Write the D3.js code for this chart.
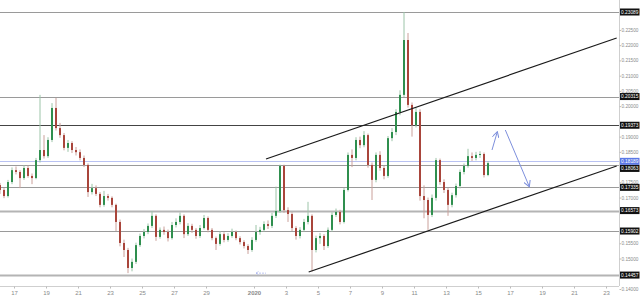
<!DOCTYPE html>
<html>
<head>
<meta charset="utf-8">
<script src="https://cdn.jsdelivr.net/npm/d3@7"></script>
<style>
  body { margin: 0; background: #fff; }
  svg { display: block; font-family: "Liberation Sans", Arial, sans-serif; }
</style>
</head>
<body>
<svg id="chart" width="640" height="300"></svg>
<script>
// 6h candles starting 16 Dec 2019, open = previous close
const startDate = new Date(2019, 11, 16);
const firstOpen = 0.1741;
const closes = [
  .1725,.1705,.1751,.1790,.1784,.1764,.1797,.1771,.1764,.1823,
  .1856,.1836,.1889,.1994,.1928,.1905,.1863,.1879,.1856,.1849,
  .1830,.1807,.1718,.1731,.1712,.1676,.1705,.1699,.1676,.1620,
  .1551,.1528,.1469,.1489,.1544,.1574,.1587,.1607,.1640,.1571,
  .1594,.1587,.1567,.1610,.1620,.1640,.1580,.1607,.1594,.1574,
  .1600,.1633,.1594,.1567,.1548,.1580,.1561,.1574,.1587,.1567,
  .1554,.1541,.1528,.1561,.1587,.1594,.1613,.1607,.1640,.1656,
  .1804,.1659,.1646,.1600,.1574,.1594,.1620,.1640,.1528,.1567,
  .1574,.1541,.1594,.1643,.1653,.1620,.1725,.1840,.1830,.1889,
  .1872,.1905,.1807,.1758,.1840,.1797,.1771,.1895,.1915,.1981,
  .2037,.2217,.2004,.1938,.1981,.1705,.1692,.1643,.1699,.1823,
  .1751,.1725,.1676,.1708,.1738,.1784,.1804,.1836,.1830,.1840,
  .1843,.1774,.1813
];
const highs = [
  .1748,.1731,.1758,.1799,.1802,.1790,.1806,.1805,.1779,.1830,
  .2037,.1905,.1898,.2010,.2027,.1945,.1912,.1889,.1885,.1866,
  .1858,.1838,.1812,.1745,.1740,.1718,.1722,.1712,.1704,.1680,
  .1628,.1562,.1535,.1500,.1552,.1582,.1597,.1615,.1656,.1645,
  .1602,.1605,.1595,.1620,.1632,.1651,.1645,.1616,.1614,.1600,
  .1610,.1643,.1638,.1600,.1572,.1590,.1586,.1583,.1598,.1592,
  .1573,.1560,.1547,.1570,.1610,.1604,.1622,.1625,.1650,.1736,
  .1808,.1808,.1668,.1652,.1606,.1603,.1630,.1686,.1645,.1575,
  .1584,.1580,.1602,.1652,.1664,.1660,.1732,.1848,.1858,.1898,
  .1900,.1918,.1910,.1815,.1848,.1852,.1805,.1902,.1928,.1990,
  .2052,.2309,.2240,.2012,.1995,.1990,.1740,.1700,.1710,.1830,
  .1828,.1760,.1732,.1716,.1746,.1792,.1812,.1860,.1848,.1850,
  .1852,.1848,.1820
];
const lows = [
  .1712,.1698,.1700,.1744,.1776,.1731,.1758,.1765,.1744,.1760,
  .1815,.1828,.1830,.1882,.1920,.1896,.1855,.1850,.1846,.1838,
  .1822,.1800,.1702,.1710,.1705,.1668,.1670,.1690,.1668,.1590,
  .1540,.1505,.1452,.1458,.1482,.1538,.1566,.1580,.1600,.1558,
  .1565,.1578,.1556,.1562,.1602,.1612,.1567,.1574,.1584,.1565,
  .1568,.1595,.1586,.1560,.1528,.1542,.1553,.1555,.1568,.1560,
  .1546,.1533,.1515,.1522,.1555,.1578,.1588,.1597,.1600,.1633,
  .1650,.1650,.1620,.1590,.1562,.1566,.1588,.1612,.1457,.1520,
  .1548,.1528,.1535,.1588,.1636,.1612,.1615,.1720,.1800,.1822,
  .1862,.1865,.1798,.1692,.1750,.1788,.1760,.1765,.1885,.1905,
  .1970,.2030,.1995,.1900,.1930,.1690,.1632,.1594,.1636,.1690,
  .1742,.1715,.1640,.1668,.1700,.1730,.1776,.1798,.1820,.1822,
  .1830,.1766,.1770
];

// horizontal levels marked on the price axis
const levels = [0.23089, 0.20315, 0.19373, 0.18189, 0.18063, 0.17335, 0.16573, 0.15902, 0.14457];
const highlightLevel = 0.18189;

// channel lines and projected path
const channelUpper = [[new Date(2020, 0, 1, 18), 0.18266], [new Date(2020, 0, 23, 16), 0.22236]];
const channelLower = [[new Date(2020, 0, 4, 10), 0.14558], [new Date(2020, 0, 23, 16), 0.18036]];
const projectionUp = [[new Date(2020, 0, 15, 21), 0.18561], [new Date(2020, 0, 16, 5), 0.19161]];
const projectionDown = [[new Date(2020, 0, 16, 17), 0.19217], [new Date(2020, 0, 18, 5), 0.17357]];

// x tick dates: odd days, with the year at 1 Jan
const xTicks = [
  new Date(2019, 11, 17), new Date(2019, 11, 19), new Date(2019, 11, 21), new Date(2019, 11, 23),
  new Date(2019, 11, 25), new Date(2019, 11, 27), new Date(2019, 11, 29), new Date(2020, 0, 1),
  new Date(2020, 0, 3), new Date(2020, 0, 5), new Date(2020, 0, 7), new Date(2020, 0, 9),
  new Date(2020, 0, 11), new Date(2020, 0, 13), new Date(2020, 0, 15), new Date(2020, 0, 17),
  new Date(2020, 0, 19), new Date(2020, 0, 21), new Date(2020, 0, 23)
];
const yTicks = d3.range(28, 47).map(v => +(v * 0.005).toFixed(3));

const SIX_H = 6 * 3600 * 1000;
const candles = closes.map((c, i) => ({
  t: new Date(startDate.getTime() + i * SIX_H + SIX_H / 2),
  o: i === 0 ? firstOpen : closes[i - 1],
  h: highs[i],
  l: lows[i],
  c: c
}));

const plotRight = 619, plotBottom = 286;
const svg = d3.select("#chart");

const x = d3.scaleTime()
  .domain([startDate, new Date(2020, 0, 24)])
  .range([-2, 622]);
const y = d3.scaleLinear()
  .domain([0.14, 0.23089])
  .range([289, 12]);

const defs = svg.append("defs");
defs.append("clipPath").attr("id", "plot")
  .append("rect").attr("x", 0).attr("y", 0).attr("width", plotRight).attr("height", plotBottom);
defs.append("marker")
  .attr("id", "arrow")
  .attr("viewBox", "0 0 8 8")
  .attr("refX", 7).attr("refY", 4)
  .attr("markerWidth", 7).attr("markerHeight", 7)
  .attr("orient", "auto")
  .attr("markerUnits", "userSpaceOnUse")
  .append("path")
  .attr("d", "M0,0 L7,4 L0,8")
  .attr("fill", "none")
  .attr("stroke", "#7d8fdc")
  .attr("stroke-width", 1.2);

const plot = svg.append("g").attr("clip-path", "url(#plot)");

// level lines
function levelStroke(v) {
  if (v === highlightLevel) return "#b9c2f2";
  if (v === 0.19373) return "#444";
  if (v === 0.16573 || v === 0.14457) return "#b4b4b4";
  return "#9a9a9a";
}
plot.selectAll("line.level")
  .data(levels)
  .enter().append("line")
  .attr("class", "level")
  .attr("x1", 0).attr("x2", plotRight)
  .attr("y1", d => Math.round(y(d)) + 0.5)
  .attr("y2", d => Math.round(y(d)) + 0.5)
  .attr("stroke", levelStroke)
  .attr("stroke-width", d => (d === 0.16573 || d === 0.14457) ? 2 : 1);

// candles
const up = "#2f8f4e", down = "#a9453b";
const candle = plot.selectAll("g.candle")
  .data(candles)
  .enter().append("g")
  .attr("class", "candle");
candle.append("line")
  .attr("x1", d => x(d.t)).attr("x2", d => x(d.t))
  .attr("y1", d => y(d.h)).attr("y2", d => y(d.l))
  .attr("stroke", d => d.c >= d.o ? "#9cc4a8" : "#caa09a")
  .attr("stroke-width", 1);
candle.append("rect")
  .attr("x", d => x(d.t) - 1)
  .attr("width", 2)
  .attr("y", d => y(Math.max(d.o, d.c)))
  .attr("height", d => Math.max(1, Math.abs(y(d.o) - y(d.c))))
  .attr("fill", d => d.c >= d.o ? up : down);

// channel lines
const line = d3.line().x(d => x(d[0])).y(d => y(d[1]));
[channelUpper, channelLower].forEach(pts => {
  plot.append("path")
    .attr("d", line(pts))
    .attr("fill", "none")
    .attr("stroke", "#1a1a1a")
    .attr("stroke-width", 1.2);
});

// projected path
[projectionUp, projectionDown].forEach(pts => {
  plot.append("path")
    .attr("d", line(pts))
    .attr("fill", "none")
    .attr("stroke", "#7d8fdc")
    .attr("stroke-width", 1)
    .attr("marker-end", "url(#arrow)");
});

// small blue marker near the 2020 label
const mx = x(new Date(2020, 0, 1, 3)), my = y(0.1452);
plot.append("path")
  .attr("d", `M${mx},${my} l3,-2 M${mx},${my} l3,2 M${mx},${my} h10`)
  .attr("fill", "none")
  .attr("stroke", "#a9b4ee")
  .attr("stroke-width", 0.8)
  .attr("stroke-dasharray", "2,1");

// frame lines
svg.append("line")
  .attr("x1", plotRight + 0.5).attr("x2", plotRight + 0.5)
  .attr("y1", 0).attr("y2", plotBottom)
  .attr("stroke", "#cfcfcf");
svg.append("line")
  .attr("x1", 0).attr("x2", plotRight)
  .attr("y1", plotBottom + 0.5).attr("y2", plotBottom + 0.5)
  .attr("stroke", "#cfcfcf");

// y axis
const yAxis = d3.axisRight(y)
  .tickValues(yTicks.filter(t => levels.every(l => Math.abs(y(l) - y(t)) > 4)))
  .tickFormat(d3.format(".5f"))
  .tickSize(1.5)
  .tickPadding(0.5);
const gy = svg.append("g")
  .attr("transform", `translate(${plotRight + 0.5},0)`)
  .call(yAxis);
gy.select(".domain").remove();
gy.selectAll("line").attr("stroke", "#bbb");
gy.selectAll("text").attr("fill", "#8a8a8a").style("font-size", "4.7px");

// level boxes on the price axis
let lastBottom = -Infinity;
const boxes = levels.map(v => {
  let cy = y(v);
  if (cy - 3.5 < lastBottom) cy = lastBottom + 3.6;
  lastBottom = cy + 3.5;
  return { v, cy };
});
const box = svg.append("g").selectAll("g")
  .data(boxes)
  .enter().append("g")
  .attr("transform", d => `translate(${plotRight + 1},${d.cy})`);
box.append("rect")
  .attr("x", 0).attr("y", -3.5)
  .attr("width", 19.5).attr("height", 7)
  .attr("fill", d => d.v === highlightLevel ? "#5b78e6" : "#111");
box.append("text")
  .attr("x", 9.75).attr("y", 1.8)
  .attr("text-anchor", "middle")
  .attr("fill", "#fff")
  .style("font-size", "4.8px")
  .text(d => d3.format(".5f")(d.v));

// x axis
const xAxis = d3.axisBottom(x)
  .tickValues(xTicks)
  .tickFormat(d => (d.getMonth() === 0 && d.getDate() === 1) ? d.getFullYear() : d.getDate())
  .tickSize(2)
  .tickPadding(2);
const gx = svg.append("g")
  .attr("transform", `translate(0,${plotBottom + 0.5})`)
  .call(xAxis);
gx.select(".domain").remove();
gx.selectAll("line").attr("stroke", "#bbb");
gx.selectAll("text")
  .attr("fill", "#8a8a8a")
  .style("font-size", "6px")
  .style("font-weight", d => (d.getMonth() === 0 && d.getDate() === 1) ? "bold" : "normal");
</script>
</body>
</html>
